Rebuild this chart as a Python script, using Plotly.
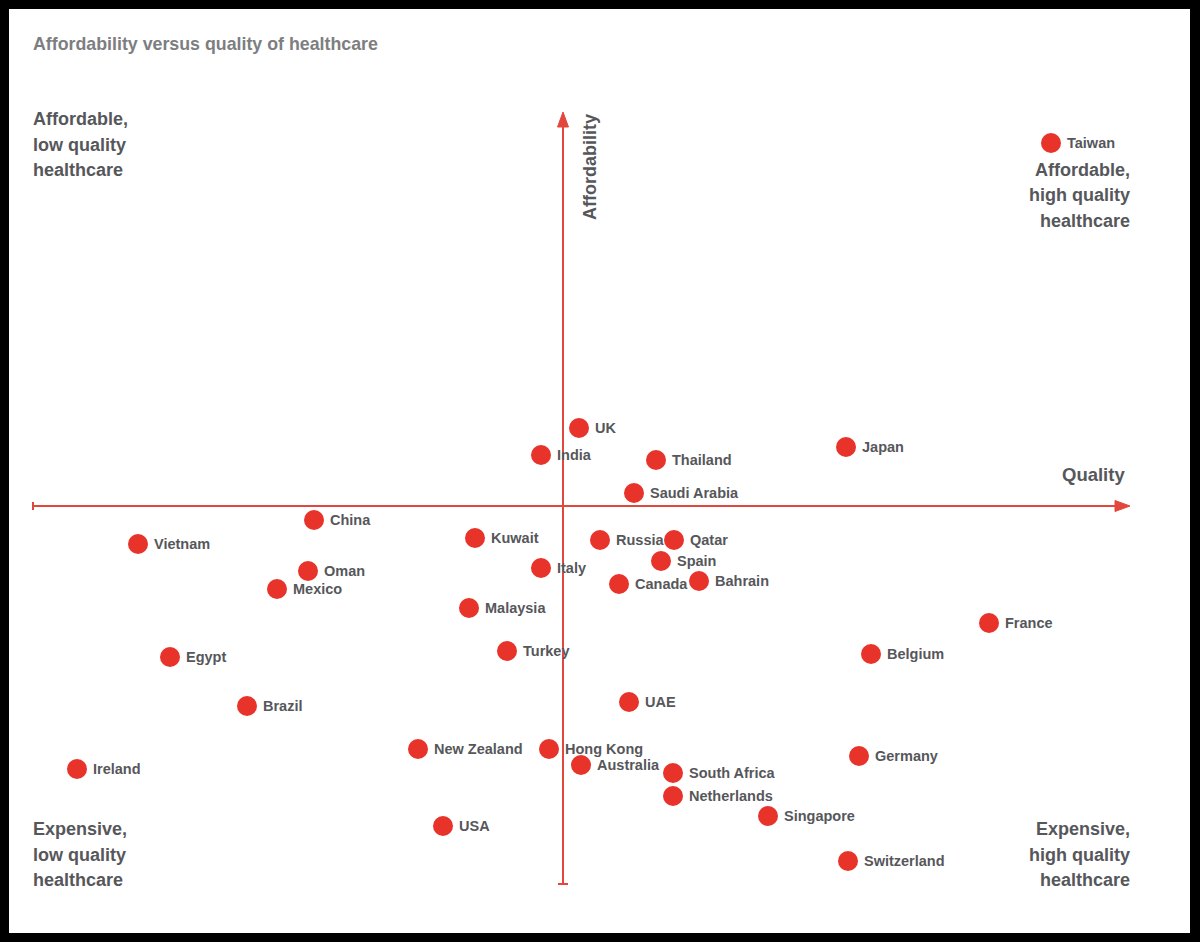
import plotly.graph_objects as go

# Positions relative to the axes crossing (quality right, affordability up)
countries = ["Taiwan", "UK", "India", "Thailand", "Japan", "Saudi Arabia", "China", "Vietnam",
             "Kuwait", "Russia", "Qatar", "Spain", "Oman", "Italy", "Canada", "Bahrain",
             "Mexico", "Malaysia", "France", "Egypt", "Turkey", "Belgium", "Brazil", "UAE",
             "New Zealand", "Hong Kong", "Germany", "Ireland", "Australia", "South Africa",
             "Netherlands", "Singapore", "USA", "Switzerland"]
quality = [488, 16, -22, 93, 283, 71, -249, -425,
           -88, 37, 111, 98, -255, -22, 56, 136,
           -286, -94, 426, -393, -56, 308, -316, 66,
           -145, -14, 296, -486, 18, 110,
           110, 205, -120, 285]
affordability = [363, 78, 51, 46, 59, 13, -14, -38,
                 -32, -34, -34, -55, -65, -62, -78, -75,
                 -83, -102, -117, -151, -145, -148, -200, -196,
                 -243, -243, -250, -263, -259, -267,
                 -290, -310, -320, -355]

title_text = "Affordability versus quality of healthcare"
quadrant_tl = ["Affordable,", "low quality", "healthcare"]
quadrant_tr = ["Affordable,", "high quality", "healthcare"]
quadrant_bl = ["Expensive,", "low quality", "healthcare"]
quadrant_br = ["Expensive,", "high quality", "healthcare"]
x_axis_label = "Quality"
y_axis_label = "Affordability"

RED = "#e8332a"
AXIS = "#e2473d"
GREY = "#56575b"
FONT = "Liberation Sans, Arial, sans-serif"

fig = go.Figure()
fig.add_trace(go.Scatter(
    x=quality, y=affordability, mode="markers",
    text=countries,
    marker=dict(size=20, color=RED, line=dict(width=0)),
    cliponaxis=False, hoverinfo="text", showlegend=False,
))

XR = [-554, 627]
YR = [-427, 497]

shapes = []
# horizontal axis
shapes.append(dict(type="line", x0=-530, x1=556, y0=0, y1=0, line=dict(color=AXIS, width=2)))
shapes.append(dict(type="line", x0=-530, x1=-530, y0=-4, y1=4, line=dict(color=AXIS, width=2)))
shapes.append(dict(type="path", path="M 567 0 L 552 5.5 L 552 -5.5 Z", fillcolor=AXIS, line=dict(color=AXIS, width=1)))
# vertical axis
shapes.append(dict(type="line", x0=0, x1=0, y0=-378, y1=382, line=dict(color=AXIS, width=2)))
shapes.append(dict(type="line", x0=-5, x1=5, y0=-378, y1=-378, line=dict(color=AXIS, width=2)))
shapes.append(dict(type="path", path="M 0 394 L -5.5 379 L 5.5 379 Z", fillcolor=AXIS, line=dict(color=AXIS, width=1)))
for s in shapes:
    s.update(xref="x", yref="y", layer="below")

ann = []
def add_text(x, y, text, xanchor, size=18, color=GREY, angle=0, xshift=0):
    ann.append(dict(x=x, y=y, xref="x", yref="y", text=text, showarrow=False,
                    xanchor=xanchor, yanchor="middle", textangle=angle, xshift=xshift,
                    font=dict(family=FONT, size=size, color=color, weight=700)))

# country labels
for c, q, a in zip(countries, quality, affordability):
    add_text(q, a, c, "left", size=14.5, xshift=14)

add_text(-532, 506 - 44, title_text, "left", size=17.8, color="#7d7e81")
for i, (py) in enumerate([119, 145, 170]):
    add_text(-532, 506 - py, quadrant_tl[i], "left")
for i, (py) in enumerate([170, 195, 221]):
    add_text(569, 506 - py, quadrant_tr[i], "right")
for i, (py) in enumerate([829, 855, 880]):
    add_text(-532, 506 - py, quadrant_bl[i], "left")
    add_text(569, 506 - py, quadrant_br[i], "right")
add_text(564, 506 - 474, x_axis_label, "right", size=18.5)
add_text(27, 506 - 167, y_axis_label, "center", angle=-90)

fig.update_layout(
    width=1200, height=942,
    margin=dict(l=9, r=10, t=9, b=9),
    paper_bgcolor="black", plot_bgcolor="white",
    xaxis=dict(range=XR, visible=False, fixedrange=True),
    yaxis=dict(range=YR, visible=False, fixedrange=True),
    shapes=shapes, annotations=ann,
)

fig.write_html(
    "out.html",
    config={"displayModeBar": False},
    post_script="document.body.style.margin='0';document.body.style.background='black';document.body.style.overflow='hidden';",
)
